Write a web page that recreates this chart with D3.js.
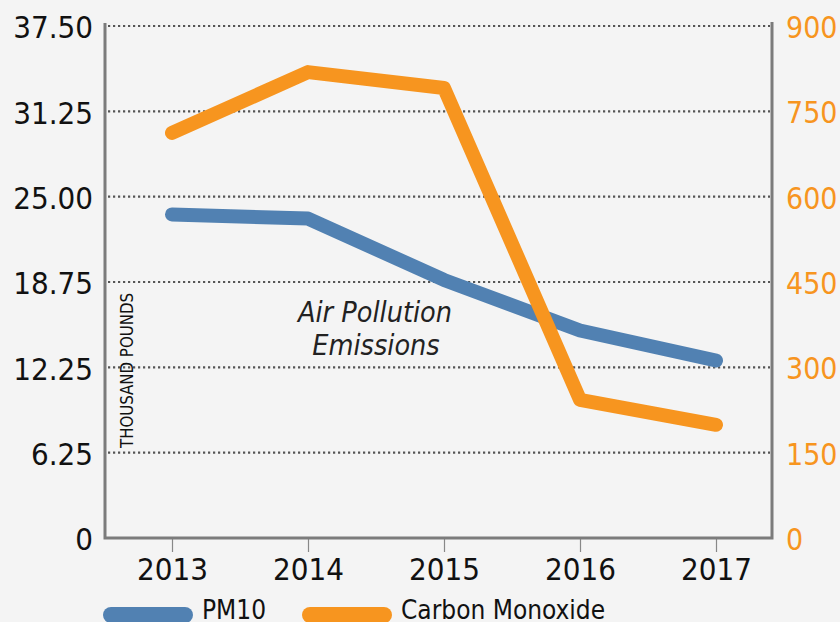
<!DOCTYPE html>
<html>
<head>
<meta charset="utf-8">
<script src="https://cdn.jsdelivr.net/npm/d3@7"></script>
<style>
  body { margin: 0; background: #f4f4f4; }
  svg { display: block; font-family: "DejaVu Sans Condensed", "DejaVu Sans", sans-serif; font-stretch: condensed; }
</style>
</head>
<body>
<div id="chart-area"></div>
<script>
// data
var years = ["2013", "2014", "2015", "2016", "2017"];
var pm10 = [23.7, 23.4, 18.9, 15.2, 13.0];
var carbonMonoxide = [712, 819, 791, 243, 199];
var leftTicks = [0, 6.25, 12.5, 18.75, 25, 31.25, 37.5];
var leftTickLabels = ["0", "6.25", "12.25", "18.75", "25.00", "31.25", "37.50"];
var rightTicks = [0, 150, 300, 450, 600, 750, 900];

var width = 840, height = 622;
var plot = { left: 105, right: 772, top: 26, bottom: 538 };

var svg = d3.select("#chart-area").append("svg")
    .attr("width", width)
    .attr("height", height);

svg.append("rect")
    .attr("width", width)
    .attr("height", height)
    .attr("fill", "#f4f4f4");

// scales
var x = d3.scalePoint()
    .domain(years)
    .range([172, 716]);

var yLeft = d3.scaleLinear()
    .domain([0, 37.5])
    .range([plot.bottom, plot.top]);

var yRight = d3.scaleLinear()
    .domain([0, 900])
    .range([plot.bottom, plot.top]);

// dotted grid
svg.append("g")
    .attr("class", "grid")
    .selectAll("line")
    .data(leftTicks)
    .enter().append("line")
        .attr("x1", plot.left + 3)
        .attr("x2", plot.right - 2)
        .attr("y1", function(d){ return yLeft(d); })
        .attr("y2", function(d){ return yLeft(d); })
        .attr("stroke", "#555")
        .attr("stroke-width", 2.2)
        .attr("stroke-dasharray", "2.2,2.8");

// left axis
var leftAxis = d3.axisLeft(yLeft)
    .tickValues(leftTicks)
    .tickSize(0)
    .tickPadding(12)
    .tickFormat(function(d, i){ return leftTickLabels[i]; });
var gLeft = svg.append("g")
    .attr("class", "y axis")
    .attr("transform", "translate(" + plot.left + ",0)")
    .call(leftAxis)
    .attr("font-family", null);
gLeft.select(".domain").remove();
gLeft.selectAll("text")
    .attr("font-size", "31px")
    .attr("fill", "#111")
    .attr("dy", "0.38em");

// right axis
var rightAxis = d3.axisRight(yRight)
    .tickValues(rightTicks)
    .tickSize(0)
    .tickPadding(14);
var gRight = svg.append("g")
    .attr("class", "y axis right")
    .attr("transform", "translate(" + plot.right + ",0)")
    .call(rightAxis)
    .attr("font-family", null);
gRight.select(".domain").remove();
gRight.selectAll("text")
    .attr("font-size", "30px")
    .attr("fill", "#f7951f")
    .attr("dy", "0.38em");

// bottom axis
var xAxis = d3.axisBottom(x).tickSize(14).tickPadding(6);
var gX = svg.append("g")
    .attr("class", "x axis")
    .attr("transform", "translate(0," + plot.bottom + ")")
    .call(xAxis)
    .attr("font-family", null);
gX.select(".domain").remove();
gX.selectAll("line").attr("stroke", "#888").attr("stroke-width", 1.2);
gX.selectAll("text")
    .attr("font-size", "31px")
    .attr("fill", "#111");

// frame lines (left, bottom, right)
svg.append("path")
    .attr("d", "M" + plot.left + "," + (plot.top - 3) + "V" + plot.bottom + "H" + plot.right + "V" + (plot.top - 4))
    .attr("fill", "none")
    .attr("stroke", "#7b7b7b")
    .attr("stroke-width", 3);

// lines
var linePM = d3.line()
    .x(function(d, i){ return x(years[i]); })
    .y(function(d){ return yLeft(d); });

var lineCO = d3.line()
    .x(function(d, i){ return x(years[i]); })
    .y(function(d){ return yRight(d); });

svg.append("path")
    .datum(pm10)
    .attr("d", linePM)
    .attr("fill", "none")
    .attr("stroke", "#5181b2")
    .attr("stroke-width", 14)
    .attr("stroke-linecap", "round")
    .attr("stroke-linejoin", "round");

svg.append("path")
    .datum(carbonMonoxide)
    .attr("d", lineCO)
    .attr("fill", "none")
    .attr("stroke", "#f7951f")
    .attr("stroke-width", 14)
    .attr("stroke-linecap", "round")
    .attr("stroke-linejoin", "round");

// title
var title = svg.append("text")
    .attr("text-anchor", "middle")
    .attr("font-size", "28.5px")
    .attr("font-style", "italic")
    .attr("fill", "#222");
title.append("tspan").attr("x", 375).attr("y", 322).text("Air Pollution");
title.append("tspan").attr("x", 376).attr("y", 355).text("Emissions");

// y label
svg.append("text")
    .attr("transform", "translate(133,448) rotate(-90)")
    .attr("font-size", "17px")
    .attr("textLength", 155)
    .attr("lengthAdjust", "spacingAndGlyphs")
    .attr("fill", "#111")
    .text("THOUSAND POUNDS");

// legend
var legendItems = [
    { name: "PM10", color: "#5181b2", x: 103 },
    { name: "Carbon Monoxide", color: "#f7951f", x: 302 }
];
var legend = svg.selectAll(".legend")
    .data(legendItems)
    .enter().append("g")
        .attr("class", "legend")
        .attr("transform", function(d){ return "translate(" + d.x + ",615)"; });
legend.append("line")
    .attr("x1", 8).attr("x2", 82)
    .attr("stroke", function(d){ return d.color; })
    .attr("stroke-width", 16)
    .attr("stroke-linecap", "round");
legend.append("text")
    .attr("x", 99)
    .attr("y", 4)
    .attr("font-size", "26px")
    .attr("fill", "#111")
    .text(function(d){ return d.name; });
</script>
</body>
</html>
